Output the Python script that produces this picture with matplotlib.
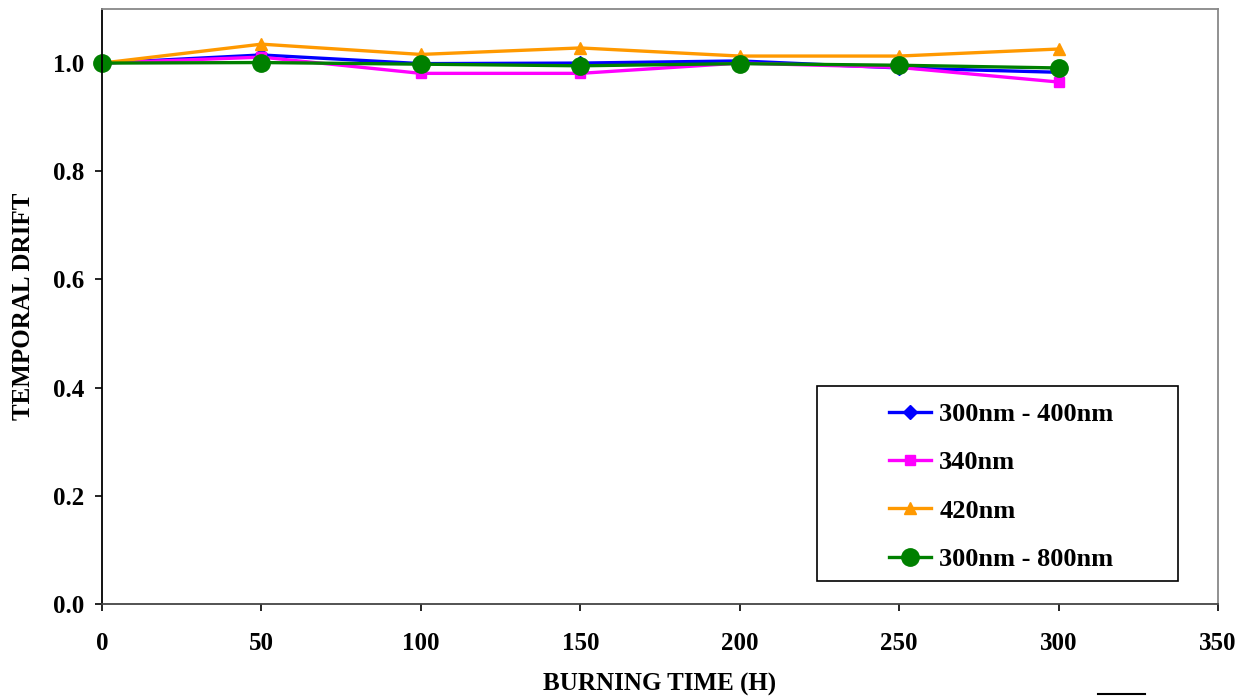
import matplotlib
matplotlib.use("Agg")
import matplotlib.pyplot as plt
from matplotlib.patches import Rectangle
from matplotlib.lines import Line2D

# burning time (hours)
hours = [0, 50, 100, 150, 200, 250, 300]

# temporal drift for each band
band_300_400 = [1.000, 1.015, 0.999, 1.000, 1.004, 0.991, 0.983]
band_340 = [1.000, 1.011, 0.981, 0.981, 1.000, 0.992, 0.965]
band_420 = [1.000, 1.035, 1.016, 1.028, 1.013, 1.013, 1.026]
band_300_800 = [1.000, 1.001, 0.998, 0.995, 0.999, 0.996, 0.991]

series_names = ["300nm - 400nm", "340nm", "420nm", "300nm - 800nm"]

plt.rcParams['font.family'] = ['Liberation Serif', 'DejaVu Serif']
plt.rcParams['font.weight'] = 'bold'

fig = plt.figure(figsize=(12.46, 6.97), dpi=100)
ax = fig.add_axes([0.0819, 0.1334, 0.8956, 0.8537])

ax.plot(hours, band_300_400, color='#0000FF', lw=2.4, marker='D', ms=7, label=series_names[0], clip_on=False)
ax.plot(hours, band_340, color='#FF00FF', lw=2.4, marker='s', ms=7, label=series_names[1], clip_on=False)
ax.plot(hours, band_420, color='#FF9900', lw=2.4, marker='^', ms=9, label=series_names[2], clip_on=False)
ax.plot(hours, band_300_800, color='#008000', lw=2.4, marker='o', ms=12.5, label=series_names[3], clip_on=False)

ax.set_xlim(0, 350)
ax.set_ylim(0, 1.1)
ax.set_xticks(range(0, 351, 50))
ax.set_yticks([0, 0.2, 0.4, 0.6, 0.8, 1.0])
ax.set_yticklabels(['0.0', '0.2', '0.4', '0.6', '0.8', '1.0'])
ax.tick_params(axis='both', labelsize=18, direction='out', length=5, width=1.2)
ax.tick_params(axis='x', pad=15)
ax.tick_params(axis='y', pad=8)
for lab in ax.get_xticklabels() + ax.get_yticklabels():
    lab.set_fontweight('bold')

ax.spines['left'].set_color('black')
ax.spines['bottom'].set_color('#444444')
ax.spines['top'].set_color('#888888')
ax.spines['right'].set_color('#888888')
for s in ax.spines.values():
    s.set_linewidth(1.3)

ax.set_xlabel('BURNING TIME (H)', fontsize=18, fontweight='bold')
ax.set_ylabel('TEMPORAL DRIFT', fontsize=18, fontweight='bold')
ax.xaxis.set_label_coords(0.5, -0.115)
ax.yaxis.set_label_coords(-0.060, 0.5)

# legend box drawn separately so its padding matches
ax.add_patch(Rectangle((0.641, 0.0387), 0.323, 0.327, transform=ax.transAxes,
                       facecolor='white', edgecolor='black', lw=1.2, zorder=5))
leg = ax.legend(loc='center left', bbox_to_anchor=(0.684, 0.197), frameon=False,
                handlelength=1.6, handletextpad=0.3, labelspacing=0.94,
                prop={'weight': 'bold', 'size': 19})
leg.set_zorder(6)

# small stray mark under the plot
fig.add_artist(Line2D([1098 / 1246, 1145 / 1246], [3 / 697, 3 / 697], color='black', lw=1.5))

fig.savefig('out.png', dpi=100)
